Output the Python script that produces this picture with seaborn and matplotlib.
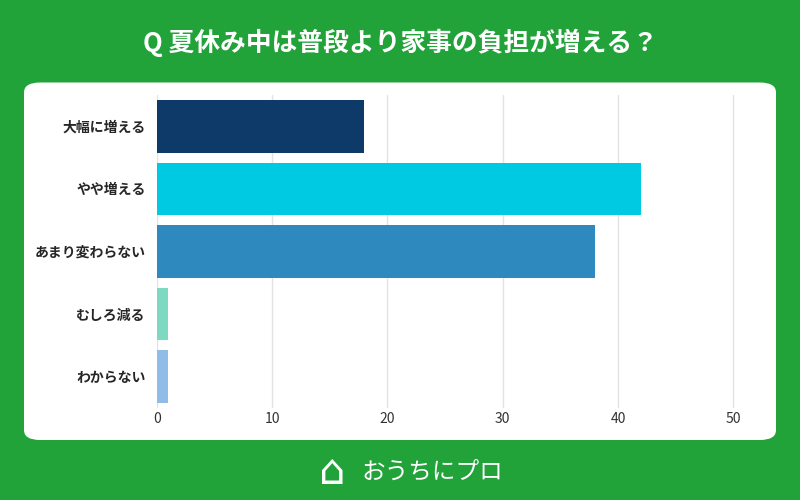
import seaborn as sns
import matplotlib.pyplot as plt
import pandas as pd
from matplotlib.patches import FancyBboxPatch

categories = ['大幅に増える', 'やや増える', 'あまり変わらない', 'むしろ減る', 'わからない']
values = [18, 42, 38, 1, 1]
colors = ['#0e3a6a', '#00c9e2', '#2e89bf', '#7dd9c1', '#8fbde8']

sns.set_style('white')
plt.rcParams['font.family'] = ['Noto Sans CJK JP', 'DejaVu Sans']

df = pd.DataFrame({'cat': categories, 'val': values})

fig = plt.figure(figsize=(8, 5), dpi=100)
fig.patch.set_facecolor('#21a33a')

# white rounded panel, kept behind the axes
panel = FancyBboxPatch((0.03, 0.12), 0.94, 0.715, boxstyle='round,pad=0,rounding_size=0.02',
                       transform=fig.transFigure, facecolor='white', edgecolor='none', zorder=-5)
fig.patches.append(panel)

fig.text(0.5, 0.915, 'Q 夏休み中は普段より家事の負担が増える？', color='white',
         fontsize=18.5, fontweight='bold', ha='center', va='center')

ax = fig.add_axes([0.196, 0.185, 0.754, 0.625])
ax.set_facecolor('none')
sns.barplot(data=df, x='val', y='cat', hue='cat', palette=colors, legend=False,
            width=0.84, saturation=1, ax=ax, zorder=2)
for p in ax.patches:
    p.set_edgecolor('none')
ax.set_xlim(0, 52.3)
ax.set_xticks([0, 10, 20, 30, 40, 50])
ax.grid(axis='x', color='#e3e3e3', linewidth=1, zorder=0)
ax.set_axisbelow(True)
ax.set_xlabel('')
ax.set_ylabel('')
for s in ax.spines.values():
    s.set_visible(False)
ax.tick_params(axis='y', length=0, labelsize=10, pad=8)
ax.tick_params(axis='x', length=0, labelsize=10, colors='#333333')
for t in ax.get_yticklabels():
    t.set_fontweight('bold')

# footer logo
fig.text(0.415, 0.055, '⌂', color='white', fontsize=30, ha='center', va='center',
         family=['DejaVu Sans'])
fig.text(0.54, 0.055, 'おうちにプロ', color='white', fontsize=17, ha='center', va='center')

fig.savefig('out.png', dpi=100, facecolor=fig.get_facecolor())
